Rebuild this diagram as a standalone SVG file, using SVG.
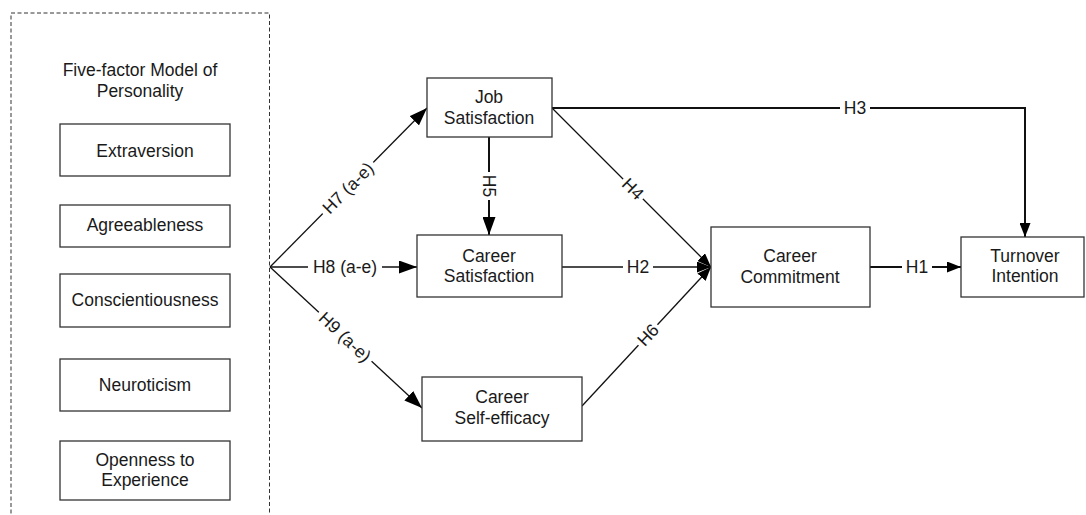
<svg xmlns="http://www.w3.org/2000/svg" width="1086" height="515" viewBox="0 0 1086 515">
  <defs>
    <style>
      .box { fill: #fff; stroke: #333; stroke-width: 1.3; }
      .t { font-family: "Liberation Sans", Arial, sans-serif; font-size: 17.5px; fill: #1a1a1a; text-anchor: middle; }
      .ln { fill: none; stroke: #111; stroke-width: 1.3; }
      .lnb { fill: none; stroke: #111; stroke-width: 2; }
      .bg { fill: #fff; stroke: none; }
    </style>
    <marker id="ab" markerUnits="userSpaceOnUse" markerWidth="18" markerHeight="13" refX="18" refY="6.5" orient="auto">
      <path d="M0,0 L18,6.5 L0,13 z" fill="#000"/>
    </marker>
    <marker id="as" markerUnits="userSpaceOnUse" markerWidth="14" markerHeight="11" refX="14" refY="5.5" orient="auto">
      <path d="M0,0 L14,5.5 L0,11 z" fill="#000"/>
    </marker>
  </defs>
  <rect width="1086" height="515" fill="#fff"/>

  <g id="personality-group">
    <path d="M11,520 L11,13 L269.5,13 L269.5,520" fill="none" stroke="#333" stroke-width="1" stroke-dasharray="4,2.5"/>
    <text class="t" x="140" y="76">Five-factor Model of</text>
    <text class="t" x="140" y="97">Personality</text>
  </g>
  <g id="extraversion">
    <rect class="box" x="60" y="124" width="170" height="52"/>
    <text class="t" x="145" y="157">Extraversion</text>
  </g>
  <g id="agreeableness">
    <rect class="box" x="60" y="205" width="170" height="42"/>
    <text class="t" x="145" y="231">Agreeableness</text>
  </g>
  <g id="conscientiousness">
    <rect class="box" x="60" y="274" width="170" height="53"/>
    <text class="t" x="145" y="306">Conscientiousness</text>
  </g>
  <g id="neuroticism">
    <rect class="box" x="60" y="359" width="170" height="52"/>
    <text class="t" x="145" y="391">Neuroticism</text>
  </g>
  <g id="openness">
    <rect class="box" x="60" y="441" width="170" height="59"/>
    <text class="t" x="145" y="466">Openness to</text>
    <text class="t" x="145" y="486">Experience</text>
  </g>

  <g id="connectors">
    <line class="ln" x1="270" y1="267" x2="427" y2="108" marker-end="url(#ab)"/>
    <line class="ln" x1="270" y1="267" x2="417" y2="267" marker-end="url(#ab)"/>
    <line class="ln" x1="270" y1="267" x2="422" y2="408" marker-end="url(#ab)"/>
    <line class="lnb" x1="489" y1="137" x2="489" y2="235" marker-end="url(#ab)"/>
    <line class="ln" x1="552" y1="108" x2="711" y2="267" marker-end="url(#as)"/>
    <line class="ln" x1="562" y1="267" x2="711" y2="267" marker-end="url(#as)"/>
    <line class="ln" x1="582" y1="406" x2="711" y2="267" marker-end="url(#as)"/>
    <polyline class="lnb" points="552,108 1025,108 1025,237" marker-end="url(#as)"/>
    <line class="lnb" x1="870" y1="267" x2="961" y2="267" marker-end="url(#as)"/>

    <g transform="translate(348,188) rotate(-45.4)">
      <rect class="bg" x="-36" y="-10" width="72" height="20"/>
      <text class="t" x="0" y="6">H7 (a-e)</text>
    </g>
    <g transform="translate(345,267)">
      <rect class="bg" x="-37" y="-10" width="74" height="20"/>
      <text class="t" x="0" y="6">H8 (a-e)</text>
    </g>
    <g transform="translate(345,337) rotate(43)">
      <rect class="bg" x="-36" y="-10" width="72" height="20"/>
      <text class="t" x="0" y="6">H9 (a-e)</text>
    </g>
    <g transform="translate(489,186) rotate(90)">
      <rect class="bg" x="-14" y="-10" width="28" height="20"/>
      <text class="t" x="0" y="6">H5</text>
    </g>
    <g transform="translate(633,189) rotate(45)">
      <rect class="bg" x="-14" y="-10" width="28" height="20"/>
      <text class="t" x="0" y="6">H4</text>
    </g>
    <g transform="translate(638,267)">
      <rect class="bg" x="-15" y="-10" width="30" height="20"/>
      <text class="t" x="0" y="6">H2</text>
    </g>
    <g transform="translate(648,335) rotate(-46.5)">
      <rect class="bg" x="-14" y="-10" width="28" height="20"/>
      <text class="t" x="0" y="6">H6</text>
    </g>
    <g transform="translate(855,108)">
      <rect class="bg" x="-15" y="-10" width="30" height="20"/>
      <text class="t" x="0" y="6">H3</text>
    </g>
    <g transform="translate(917,267)">
      <rect class="bg" x="-15" y="-10" width="30" height="20"/>
      <text class="t" x="0" y="6">H1</text>
    </g>
  </g>

  <g id="job-satisfaction">
    <rect class="box" x="427" y="78" width="125" height="59"/>
    <text class="t" x="489" y="103">Job</text>
    <text class="t" x="489" y="124">Satisfaction</text>
  </g>
  <g id="career-satisfaction">
    <rect class="box" x="417" y="235" width="145" height="62"/>
    <text class="t" x="489" y="262">Career</text>
    <text class="t" x="489" y="282">Satisfaction</text>
  </g>
  <g id="career-self-efficacy">
    <rect class="box" x="422" y="377" width="160" height="64"/>
    <text class="t" x="502" y="403">Career</text>
    <text class="t" x="502" y="424">Self-efficacy</text>
  </g>
  <g id="career-commitment">
    <rect class="box" x="711" y="227" width="159" height="80"/>
    <text class="t" x="790" y="262">Career</text>
    <text class="t" x="790" y="283">Commitment</text>
  </g>
  <g id="turnover-intention">
    <rect class="box" x="961" y="237" width="123" height="60"/>
    <text class="t" x="1025" y="262">Turnover</text>
    <text class="t" x="1025" y="282">Intention</text>
  </g>
</svg>
